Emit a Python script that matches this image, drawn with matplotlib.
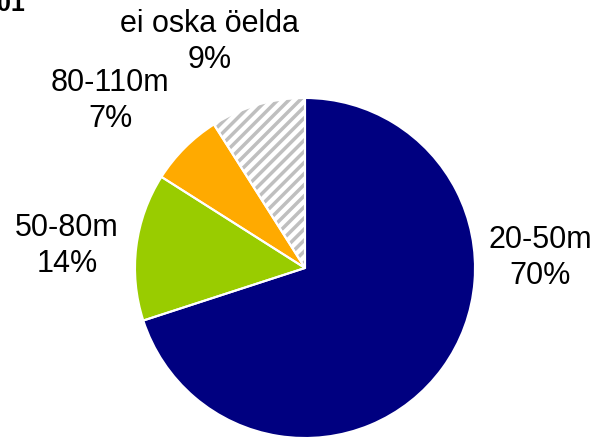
import matplotlib.pyplot as plt

labels = ["20-50m", "50-80m", "80-110m", "ei oska öelda"]
shares = [70, 14, 7, 9]
colors = ["#000080", "#99CC00", "#FFAA00", "white"]

# label anchor points in pixel coords (x, y from top)
label_pos = [(540, 258), (67, 246), (110, 101), (210, 42)]

plt.rcParams['font.family'] = ['Liberation Sans', 'DejaVu Sans']
plt.rcParams['hatch.linewidth'] = 2.5

W, H = 596, 440
fig = plt.figure(figsize=(W / 100, H / 100), dpi=100)
ax = fig.add_axes([0, 0, 1, 1])

cx, cy, r = 305, H - 268, 170

wedges, _ = ax.pie(shares, colors=colors, startangle=90, counterclock=False,
                   center=(cx, cy), radius=r, frame=True,
                   wedgeprops=dict(linewidth=0))
wedges[3].set_edgecolor("#BFBFBF")
wedges[3].set_hatch("///")

# white separators on top
ax.pie(shares, colors=["none"] * 4, startangle=90, counterclock=False,
       center=(cx, cy), radius=r, frame=True,
       wedgeprops=dict(fill=False, edgecolor="white", linewidth=1.5))
ax.set_xlim(0, W)
ax.set_ylim(0, H)
ax.axis("off")

for lab, val, (x, y) in zip(labels, shares, label_pos):
    ax.text(x, H - y, f"{lab}\n{val}%", ha="center", va="center",
            fontsize=22, linespacing=1.3)

fig.text(25 / W, 1 - 11 / H, "01", ha="right", va="baseline",
         fontsize=18, fontweight="bold")

fig.savefig("out.png", dpi=100)
